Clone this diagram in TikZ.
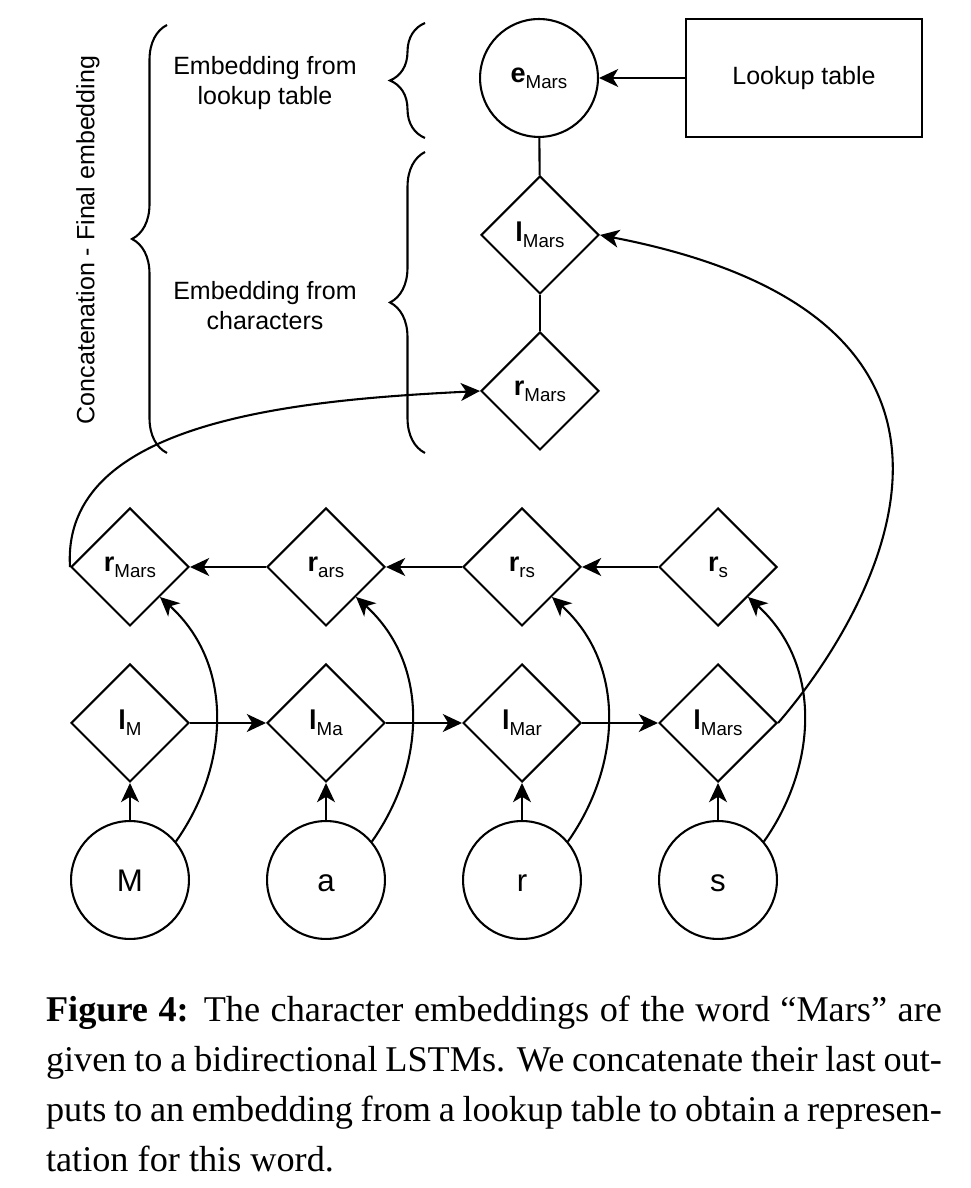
\documentclass[tikz,border=0pt]{standalone}
\usepackage{fontspec}
\setmainfont{Liberation Serif}
\newfontfamily\diafont{Liberation Sans}
\usepackage{tikz}
\usetikzlibrary{shapes.geometric, arrows.meta, decorations.pathreplacing}

% bold symbol with a small subscript, as in the cells
\newcommand{\sublab}[2]{{\bfseries\fontsize{6.5}{7}\selectfont #1}{\fontsize{4.5}{5}\selectfont\raisebox{-1.4pt}{#2}}}

\begin{document}
\begin{tikzpicture}[x=0.24pt, y=0.24pt, line width=0.5pt,
    >={Stealth[length=4.6pt, width=4.3pt, inset=1.3pt]},
    chr/.style={draw, circle, minimum size=28.3pt, inner sep=0pt, text height=5.4pt, text depth=0pt, font=\diafont\fontsize{7.5}{9}\selectfont},
    cell/.style={draw, diamond, minimum width=28.3pt, minimum height=28.3pt, inner sep=0pt, font=\diafont},
    txt/.style={align=center, font=\diafont\fontsize{6}{7.2}\selectfont},
    brc/.style={decorate, decoration={brace, amplitude=8.4pt}}]
    \useasboundingbox (0,0) rectangle (971,1188);

    % word level
    \node[draw, circle, minimum size=28.3pt, inner sep=0pt, font=\diafont] (emars) at (539,1110) {\sublab{e}{Mars}};
    \node[draw, txt, minimum width=56.6pt, minimum height=28.3pt] (lut) at (804,1110) {Lookup table};
    \node[cell] (lmars) at (540,953) {\sublab{l}{Mars}};
    \node[cell] (rmars) at (540,797) {\sublab{r}{Mars}};

    % backward cells
    \node[cell] (r1) at (130,621) {\sublab{r}{Mars}};
    \node[cell] (r2) at (326,621) {\sublab{r}{ars}};
    \node[cell] (r3) at (522,621) {\sublab{r}{rs}};
    \node[cell] (r4) at (718,621) {\sublab{r}{s}};

    % forward cells
    \node[cell] (l1) at (130,465) {\sublab{l}{M}};
    \node[cell] (l2) at (326,465) {\sublab{l}{Ma}};
    \node[cell] (l3) at (522,465) {\sublab{l}{Mar}};
    \node[cell] (l4) at (718,465) {\sublab{l}{Mars}};

    % characters
    \node[chr] (c1) at (130,308) {M};
    \node[chr] (c2) at (326,308) {a};
    \node[chr] (c3) at (522,308) {r};
    \node[chr] (c4) at (718,308) {s};

    % braces and their texts
    \draw[brc] (425,1050) -- (425,1165);
    \draw[brc] (425,735) -- (425,1036);
    \draw[brc] (167,735) -- (167,1163);
    \node[txt] (tlut) at (265,1105) {Embedding from\\lookup table};
    \node[txt] (tchr) at (265,882) {Embedding from\\characters};
    \node[txt, rotate=90] (tcat) at (88,948) {Concatenation - Final embedding};

    \path[->]
    (lut) edge (emars)
    (emars) edge[-] (lmars)
    (lmars) edge[-] (rmars)
    (r4) edge (r3)
    (r3) edge (r2)
    (r2) edge (r1)
    (l1) edge (l2)
    (l2) edge (l3)
    (l3) edge (l4)
    (c1) edge (l1)
    (c2) edge (l2)
    (c3) edge (l3)
    (c4) edge (l4);

    \draw[->] (c1.40) .. controls +(53,75) and +(75,-68) .. (r1.south east);
    \draw[->] (c2.40) .. controls +(53,75) and +(75,-68) .. (r2.south east);
    \draw[->] (c3.40) .. controls +(53,75) and +(75,-68) .. (r3.south east);
    \draw[->] (c4.40) .. controls +(53,75) and +(75,-68) .. (r4.south east);
    \draw[->] (l4.east) .. controls +(88,101) and +(451,-87) .. (lmars.east);
    \draw[->] (r1.west) .. controls +(-9,147) and +(-181,-9) .. (rmars.west);

    \node[anchor=base west, inner sep=0pt, font=\fontsize{8.7}{12}\selectfont] (caption) at (45,166)
    {\parbox[t]{215pt}{\textbf{Figure 4:} The character embeddings of the word “Mars” are\linebreak
    given to a bidirectional LSTMs. We concatenate their last out-\linebreak
    puts to an embedding from a lookup table to obtain a represen-\linebreak
    tation for this word.}};
\end{tikzpicture}
\end{document}
